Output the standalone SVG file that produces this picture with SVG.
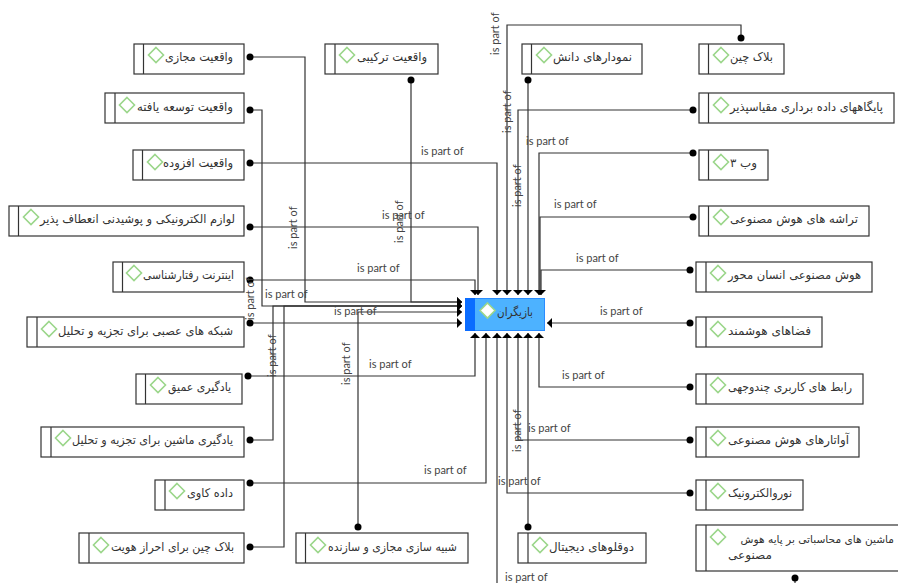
<svg xmlns="http://www.w3.org/2000/svg" width="898" height="583" viewBox="0 0 898 583">
<style>
.box{fill:#fff;stroke:#333;stroke-width:1.2}
.dm{fill:none;stroke:#9bd68a;stroke-width:1.6}
.t{font-family:"DejaVu Sans",sans-serif;font-size:12px;fill:#333;text-anchor:end}
.l{font-family:"Lato",sans-serif;font-size:11px;fill:#444}
.c{fill:none;stroke:#333;stroke-width:1.2;marker-start:url(#dot);marker-end:url(#arr)}
</style>
<defs>
<marker id="dot" markerUnits="userSpaceOnUse" markerWidth="10" markerHeight="10" refX="5" refY="5" orient="auto"><circle cx="5" cy="5" r="3.500" fill="#000"/></marker>
<marker id="arr" markerUnits="userSpaceOnUse" markerWidth="12" markerHeight="12" refX="6" refY="6" orient="auto"><path d="M1 1L6 6L1 11Z" fill="#000"/></marker>
<g id="sym"><path class="dm" d="M0-7.500L7.500 0L0 7.500L-7.500 0Z"/></g>
</defs>
<rect width="898" height="583" fill="#fff"/>
<g id="connectors">
<polyline class="c" points="250,57 305,57 305,302 462,302"/>
<polyline class="c" points="250,110 262,110 262,306 462,306"/>
<polyline class="c" points="250,163 497,163 497,295"/>
<polyline class="c" points="250,227 478,227 478,295"/>
<polyline class="c" points="250,280 475,280 475,295"/>
<polyline class="c" points="250,323 462,323"/>
<polyline class="c" points="248,376 475,376 475,333"/>
<polyline class="c" points="250,440 273,440 273,306 462,306"/>
<polyline class="c" points="250,483 486,483 486,333"/>
<polyline class="c" points="250,547 284,547 284,306 462,306"/>
<polyline class="c" points="358,527 358,312 462,312"/>
<polyline class="c" points="411,80 411,302 462,302"/>
<polyline class="c" points="528,80 528,295"/>
<polyline class="c" points="741,38 741,25 507,25 507,295"/>
<polyline class="c" points="693,110 518,110 518,295"/>
<polyline class="c" points="693,153 539,153 539,295"/>
<polyline class="c" points="693,217 540,217 540,295"/>
<polyline class="c" points="690,270 541,270 541,295"/>
<polyline class="c" points="690,323 547,323"/>
<polyline class="c" points="690,387 539,387 539,333"/>
<polyline class="c" points="690,440 518,440 518,333"/>
<polyline class="c" points="690,493 507,493 507,333"/>
<polyline class="c" points="528,527 528,333"/>
<polyline class="c" points="795,578 795,590"/>
<polyline class="c" style="marker-start:none" points="497,590 497,333"/>
</g>
<g id="connector-labels">
<text class="l" x="421" y="155">is part of</text>
<text class="l" x="382" y="219">is part of</text>
<text class="l" x="357" y="272">is part of</text>
<text class="l" x="265" y="298">is part of</text>
<text class="l" x="334" y="315">is part of</text>
<text class="l" x="369" y="368">is part of</text>
<text class="l" x="424" y="474">is part of</text>
<text class="l" transform="translate(297,249) rotate(-90)">is part of</text>
<text class="l" transform="translate(403,243) rotate(-90)">is part of</text>
<text class="l" transform="translate(254,320) rotate(-90)">is part of</text>
<text class="l" transform="translate(276,377) rotate(-90)">is part of</text>
<text class="l" transform="translate(350,385) rotate(-90)">is part of</text>
<text class="l" transform="translate(499,55) rotate(-90)">is part of</text>
<text class="l" transform="translate(511,133) rotate(-90)">is part of</text>
<text class="l" transform="translate(521,207) rotate(-90)">is part of</text>
<text class="l" transform="translate(521,452) rotate(-90)">is part of</text>
<text class="l" x="526" y="145">is part of</text>
<text class="l" x="554" y="208">is part of</text>
<text class="l" x="576" y="262">is part of</text>
<text class="l" x="600" y="315">is part of</text>
<text class="l" x="562" y="379">is part of</text>
<text class="l" x="528" y="432">is part of</text>
<text class="l" x="498" y="485">is part of</text>
<text class="l" x="505" y="581">is part of</text>
</g>
<g id="n1"><rect class="box" x="134" y="44" width="110" height="30"/><path class="box" d="M143.500 44V74"/><use href="#sym" x="156" y="55"/><text class="t" x="233" y="61" textLength="68" lengthAdjust="spacingAndGlyphs">واقعیت مجازی</text></g>
<g id="n2"><rect class="box" x="105" y="93" width="139" height="30"/><path class="box" d="M115 93V123"/><use href="#sym" x="127" y="105"/><text class="t" x="233" y="111" textLength="96" lengthAdjust="spacingAndGlyphs">واقعیت توسعه یافته</text></g>
<g id="n3"><rect class="box" x="133" y="150" width="111" height="30"/><path class="box" d="M142.500 150V180"/><use href="#sym" x="155" y="162"/><text class="t" x="233" y="167" textLength="70" lengthAdjust="spacingAndGlyphs">واقعیت افزوده</text></g>
<g id="n4"><rect class="box" x="9" y="206" width="235" height="30"/><path class="box" d="M18.500 206V236"/><use href="#sym" x="31" y="217"/><text class="t" x="235" y="223" textLength="195" lengthAdjust="spacingAndGlyphs">لوازم الکترونیکی و پوشیدنی انعطاف پذیر</text></g>
<g id="n5"><rect class="box" x="113" y="262" width="131" height="30"/><path class="box" d="M122.500 262V292"/><use href="#sym" x="134" y="273"/><text class="t" x="234" y="279" textLength="91" lengthAdjust="spacingAndGlyphs">اینترنت رفتارشناسی</text></g>
<g id="n6"><rect class="box" x="27" y="317" width="217" height="30"/><path class="box" d="M37 317V347"/><use href="#sym" x="49" y="329"/><text class="t" x="233" y="335" textLength="175" lengthAdjust="spacingAndGlyphs">شبکه های عصبی برای تجزیه و تحلیل</text></g>
<g id="n7"><rect class="box" x="136" y="374" width="106" height="30"/><path class="box" d="M145.500 374V404"/><use href="#sym" x="158" y="385"/><text class="t" x="231" y="391" textLength="63" lengthAdjust="spacingAndGlyphs">یادگیری عمیق</text></g>
<g id="n8"><rect class="box" x="41" y="427" width="203" height="30"/><path class="box" d="M51 427V457"/><use href="#sym" x="63" y="438"/><text class="t" x="233" y="444" textLength="161" lengthAdjust="spacingAndGlyphs">یادگیری ماشین برای تجزیه و تحلیل</text></g>
<g id="n9"><rect class="box" x="155" y="480" width="89" height="30"/><path class="box" d="M165 480V510"/><use href="#sym" x="177" y="491"/><text class="t" x="233" y="497" textLength="46" lengthAdjust="spacingAndGlyphs">داده کاوی</text></g>
<g id="n10"><rect class="box" x="79" y="533" width="165" height="30"/><path class="box" d="M89 533V563"/><use href="#sym" x="101" y="545"/><text class="t" x="234" y="551" textLength="123" lengthAdjust="spacingAndGlyphs">بلاک چین برای احراز هویت</text></g>
<g id="n11"><rect class="box" x="296" y="533" width="172" height="30"/><path class="box" d="M305.500 533V563"/><use href="#sym" x="318" y="545"/><text class="t" x="457" y="551" textLength="129" lengthAdjust="spacingAndGlyphs">شبیه سازی مجازی و سازنده</text></g>
<g id="n12"><rect class="box" x="325" y="44" width="113" height="30"/><path class="box" d="M335 44V74"/><use href="#sym" x="347" y="55"/><text class="t" x="427" y="61" textLength="70" lengthAdjust="spacingAndGlyphs">واقعیت ترکیبی</text></g>
<g id="n13"><rect class="box" x="522" y="44" width="120" height="30"/><path class="box" d="M531.500 44V74"/><use href="#sym" x="544" y="55"/><text class="t" x="632" y="61" textLength="79" lengthAdjust="spacingAndGlyphs">نمودارهای دانش</text></g>
<g id="n14"><rect class="box" x="699" y="44" width="85" height="30"/><path class="box" d="M708.500 44V74"/><use href="#sym" x="721" y="55"/><text class="t" x="773" y="61" textLength="43" lengthAdjust="spacingAndGlyphs">بلاک چین</text></g>
<g id="n15"><rect class="box" x="699" y="93" width="195" height="30"/><path class="box" d="M708.500 93V123"/><use href="#sym" x="721" y="105"/><text class="t" x="883" y="111" textLength="153" lengthAdjust="spacingAndGlyphs">پایگاههای داده برداری مقیاسپذیر</text></g>
<g id="n16"><rect class="box" x="699" y="150" width="69" height="30"/><path class="box" d="M708.500 150V180"/><use href="#sym" x="721" y="162"/><text class="t" x="757" y="167" textLength="27" lengthAdjust="spacingAndGlyphs">وب ۳</text></g>
<g id="n17"><rect class="box" x="699" y="206" width="170" height="30"/><path class="box" d="M708.500 206V236"/><use href="#sym" x="721" y="217"/><text class="t" x="858" y="223" textLength="128" lengthAdjust="spacingAndGlyphs">تراشه های هوش مصنوعی</text></g>
<g id="n18"><rect class="box" x="696" y="262" width="176" height="30"/><path class="box" d="M706 262V292"/><use href="#sym" x="718" y="273"/><text class="t" x="861" y="279" textLength="133" lengthAdjust="spacingAndGlyphs">هوش مصنوعی انسان محور</text></g>
<g id="n19"><rect class="box" x="696" y="317" width="126" height="30"/><path class="box" d="M706 317V347"/><use href="#sym" x="718" y="329"/><text class="t" x="811" y="335" textLength="83" lengthAdjust="spacingAndGlyphs">فضاهای هوشمند</text></g>
<g id="n20"><rect class="box" x="696" y="374" width="167" height="30"/><path class="box" d="M706 374V404"/><use href="#sym" x="718" y="385"/><text class="t" x="852" y="391" textLength="124" lengthAdjust="spacingAndGlyphs">رابط های کاربری چندوجهی</text></g>
<g id="n21"><rect class="box" x="696" y="427" width="163" height="30"/><path class="box" d="M706 427V457"/><use href="#sym" x="718" y="438"/><text class="t" x="849" y="444" textLength="121" lengthAdjust="spacingAndGlyphs">آواتارهای هوش مصنوعی</text></g>
<g id="n22"><rect class="box" x="696" y="480" width="107" height="30"/><path class="box" d="M706 480V510"/><use href="#sym" x="718" y="491"/><text class="t" x="792" y="497" textLength="64" lengthAdjust="spacingAndGlyphs">نوروالکترونیک</text></g>
<g id="n23"><rect class="box" x="696" y="525" width="210" height="46"/><path class="box" d="M706 525V571"/><use href="#sym" x="718" y="537"/><text class="t" x="894" y="543" style="font-size:10.600px">ماشین های محاسباتی بر پایه هوش</text><text class="t" x="772" y="559" textLength="44" lengthAdjust="spacingAndGlyphs">مصنوعی</text></g>
<g id="n24"><rect class="box" x="518" y="533" width="128" height="30"/><path class="box" d="M528 533V563"/><use href="#sym" x="540" y="545"/><text class="t" x="634" y="551" textLength="85" lengthAdjust="spacingAndGlyphs">دوقلوهای دیجیتال</text></g>
<g id="center"><rect x="465.500" y="298.500" width="79" height="32" fill="#4db2ff" stroke="#2a8cff"/><rect x="465" y="298" width="10" height="33" fill="#0a6cff"/><path d="M487.500 303L495 310.500L487.500 318L480 310.500Z" fill="#fff" stroke="#9bd68a" stroke-width="1.600"/><text class="t" x="533" y="316" textLength="36" lengthAdjust="spacingAndGlyphs">بازیگران</text></g>
</svg>
